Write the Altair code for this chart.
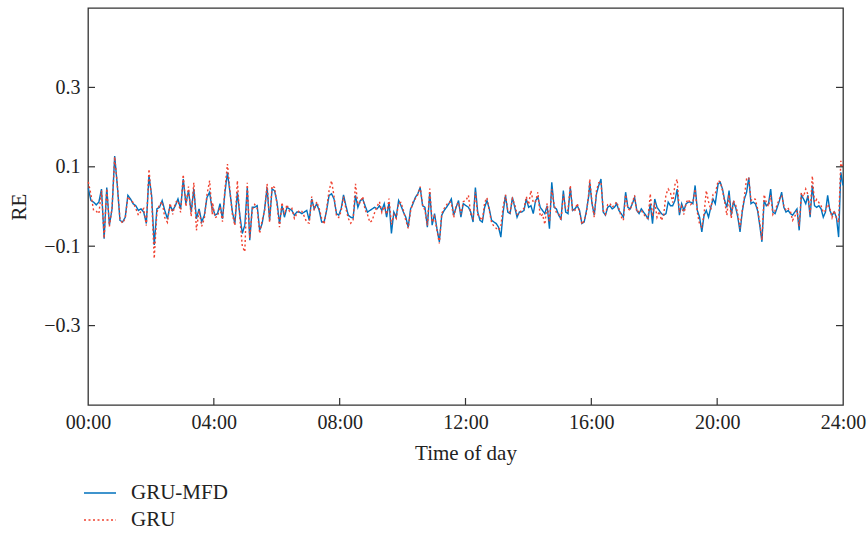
import altair as alt
import numpy as np
import pandas as pd

mfd_1 = [0.046, 0.015, 0.011, 0.004, 0.011, 0.044, -0.081, 0.048, -0.047, -0.006, 0.127, 0.053, -0.035, -0.039, -0.027, 0.028, 0.019, 0.007, 0.002, -0.010, -0.006, -0.014, -0.043, 0.078, 0.028, -0.097, -0.006, -0.002, 0.015, -0.010, -0.031, 0.002, -0.010, 0.002, 0.019, -0.006, 0.069, 0.007, 0.040, -0.014, 0.044, -0.031, -0.006, -0.039, -0.022, 0.023, 0.036, -0.010]
mfd_2 = [-0.002, -0.022, -0.018, 0.007, -0.031, 0.036, 0.086, 0.036, -0.014, -0.043, 0.036, -0.022, -0.068, -0.047, 0.048, -0.085, -0.002, -0.002, 0.002, -0.060, -0.043, -0.006, 0.048, -0.035, 0.044, 0.040, 0.011, -0.043, 0.002, -0.027, -0.002, -0.006, -0.010, -0.022, -0.014, -0.014, -0.018, -0.014, -0.010, -0.035, 0.019, -0.006, 0.007, -0.010, -0.039, -0.039, -0.010, 0.028, 0.032, 0.019, -0.018]
mfd_3 = [-0.022, -0.006, 0.029, 0.002, -0.022, -0.027, -0.029, 0.028, -0.002, 0.015, 0.019, 0.002, -0.014, -0.010, -0.006, -0.002, -0.006, 0.002, -0.010, 0.007, -0.027, 0.011, -0.068, -0.014, -0.027, 0.015, 0.002, -0.014, -0.027, -0.052, -0.006, 0.007, 0.023, 0.032, 0.048, 0.002, -0.002, -0.052, 0.036, -0.047, -0.018, -0.056, -0.089, -0.022, -0.010, -0.002, 0.007, 0.019, -0.022, -0.002, 0.015, -0.027, 0.007]
mfd_4 = [0.002, -0.002, -0.014, -0.039, 0.048, -0.014, -0.035, -0.039, -0.002, 0.015, -0.006, -0.035, -0.039, -0.043, -0.052, -0.077, -0.014, 0.028, -0.014, -0.018, 0.023, -0.002, -0.027, -0.014, -0.014, -0.010, 0.019, -0.002, 0.002, -0.018, 0.015, 0.023, -0.002, -0.010, -0.018, 0.002, -0.056, 0.061, -0.002, -0.006, -0.022, -0.031, 0.040, -0.014, -0.018, 0.048, -0.010, -0.006, 0.002, -0.010, -0.043, -0.039, -0.010, 0.028]
mfd_5 = [0.061, 0.007, -0.022, 0.032, 0.053, 0.069, -0.014, -0.022, -0.002, 0.002, -0.006, -0.002, 0.007, -0.010, -0.018, -0.027, 0.036, -0.002, -0.006, 0.007, 0.023, -0.010, -0.018, -0.006, -0.014, -0.022, -0.031, 0.007, -0.043, 0.019, -0.002, -0.010, -0.018, -0.022, -0.018, 0.011, 0.002, 0.002, 0.015, 0.044, -0.022, 0.007, -0.010, 0.007, 0.011, 0.011, 0.007, 0.053, -0.010, -0.027, -0.064, -0.022, -0.010, -0.027, -0.002, 0.019, 0.007]
mfd_6 = [0.057, 0.061, 0.044, 0.015, -0.002, 0.040, -0.022, 0.011, -0.002, -0.027, -0.064, -0.014, 0.019, 0.036, 0.073, 0.007, 0.011, 0.007, -0.010, -0.047, -0.089, 0.015, 0.002, 0.007, 0.044, -0.014, -0.018, -0.002, 0.015, 0.036, -0.002, -0.014, -0.010, -0.018, -0.022, -0.014, -0.006, -0.060, 0.028, 0.019, 0.007, 0.028, -0.027, 0.053, 0.002, -0.002, 0.002, -0.006, -0.027, -0.014, 0.028, -0.010, -0.022, -0.014, -0.027, -0.077, 0.086, 0.053]

gru_1 = [0.062, 0.030, -0.010, -0.012, -0.018, 0.040, -0.080, 0.045, -0.050, -0.004, 0.125, 0.055, -0.032, -0.042, -0.030, 0.025, 0.015, 0.010, -0.005, -0.022, -0.012, -0.005, -0.048, 0.094, 0.020, -0.131, -0.015, 0.005, 0.012, -0.028, -0.040, 0.008, -0.020, 0.010, 0.015, -0.015, 0.080, 0.000, 0.050, -0.025, 0.060, -0.060, -0.010, -0.050, -0.030, 0.030, 0.065, -0.020]
gru_2 = [0.010, -0.028, -0.025, 0.000, -0.038, 0.045, 0.107, 0.040, -0.020, -0.048, 0.065, -0.030, -0.100, -0.114, 0.060, -0.080, -0.008, 0.005, -0.005, -0.068, -0.035, -0.010, 0.057, -0.040, 0.052, 0.048, 0.005, -0.052, 0.010, -0.020, 0.005, -0.012, -0.005, -0.030, -0.018, -0.010, -0.012, -0.025, -0.040, -0.042, 0.025, -0.010, 0.012, -0.005, -0.030, -0.045, -0.005, 0.040, 0.065, 0.025, -0.025]
gru_3 = [-0.028, -0.012, 0.025, -0.005, -0.030, -0.042, -0.035, 0.057, 0.005, 0.010, 0.025, -0.008, -0.020, -0.040, -0.035, -0.015, 0.000, 0.012, -0.015, 0.000, -0.020, 0.020, -0.045, -0.020, -0.030, 0.010, 0.010, -0.010, -0.035, -0.055, -0.012, 0.012, 0.020, 0.030, 0.050, 0.005, -0.010, -0.048, 0.045, -0.040, -0.025, -0.060, -0.093, -0.018, -0.005, 0.004, 0.012, 0.010, -0.028, 0.002, 0.010, -0.020, 0.012]
gru_4 = [0.016, 0.028, -0.020, -0.030, 0.036, -0.020, -0.028, -0.035, 0.010, 0.022, -0.010, -0.040, -0.050, -0.055, -0.060, -0.050, 0.000, 0.030, -0.010, -0.015, 0.020, 0.005, -0.020, -0.018, -0.008, -0.005, 0.025, 0.005, 0.040, 0.010, 0.012, 0.036, -0.025, -0.020, -0.045, 0.008, -0.040, 0.044, 0.005, -0.015, -0.018, -0.035, 0.030, -0.008, -0.010, 0.053, -0.012, -0.010, 0.008, -0.015, -0.045, -0.035, -0.015, 0.035]
gru_5 = [0.069, 0.010, -0.027, 0.040, 0.060, 0.062, -0.010, -0.020, 0.005, 0.008, -0.002, 0.004, 0.012, -0.005, -0.025, -0.035, 0.030, -0.005, -0.010, 0.010, 0.028, -0.015, -0.012, -0.010, -0.018, -0.028, -0.030, 0.032, -0.025, 0.010, -0.027, -0.012, -0.035, -0.020, 0.030, 0.044, 0.035, 0.010, 0.055, 0.069, -0.015, 0.000, -0.020, 0.010, 0.018, 0.005, 0.010, 0.044, -0.015, -0.045, -0.052, -0.018, 0.040, 0.012, -0.008, 0.030, 0.032]
gru_6 = [0.065, 0.062, 0.040, 0.012, -0.022, 0.030, -0.030, 0.015, 0.005, -0.020, -0.055, -0.010, 0.025, 0.070, 0.073, 0.015, 0.020, 0.018, -0.005, -0.040, -0.085, 0.030, 0.010, 0.000, 0.028, -0.020, -0.010, 0.005, 0.020, 0.028, 0.002, -0.010, -0.005, -0.012, -0.035, -0.025, -0.010, -0.050, 0.035, 0.025, 0.044, 0.030, -0.020, 0.077, 0.010, 0.018, 0.010, 0.002, -0.015, -0.010, 0.006, -0.004, -0.028, -0.010, -0.030, -0.040, 0.115, 0.095]

# time span (hours) covered by each block of readings
seg_hours = [(0.01, 3.95), (3.96, 7.90), (7.97, 11.93), (12.02, 15.92), (15.95, 19.94), (20.03, 24.0)]

series_names = ["GRU-MFD", "GRU"]
y_ticks = [-0.3, -0.1, 0.1, 0.3]
x_ticks = [0, 4, 8, 12, 16, 20, 24]
x_inner_ticks = [4, 8, 12, 16, 20]

mfd_segs = [mfd_1, mfd_2, mfd_3, mfd_4, mfd_5, mfd_6]
gru_segs = [gru_1, gru_2, gru_3, gru_4, gru_5, gru_6]
hours = np.concatenate([np.linspace(a, b, len(s)) for (a, b), s in zip(seg_hours, mfd_segs)])
mfd = sum(mfd_segs, [])
gru = sum(gru_segs, [])

df = pd.concat([
    pd.DataFrame({"hour": hours, "RE": mfd, "model": "GRU-MFD"}),
    pd.DataFrame({"hour": hours, "RE": gru, "model": "GRU"}),
])

FONT = "Liberation Serif"
W, H = 755, 397

x_scale = alt.Scale(domain=[0, 24], nice=False, zero=False)
x_enc = alt.X("hour:Q", scale=x_scale,
              axis=alt.Axis(values=x_ticks, title="Time of day", grid=False, ticks=False, domain=False,
                            labelFlush=False,
                            labelExpr="(datum.value < 10 ? '0' : '') + datum.value + ':00'",
                            labelPadding=7, titlePadding=10))
y_scale = alt.Scale(domain=[-0.5, 0.5], nice=False)
y_enc = alt.Y("RE:Q", scale=y_scale,
              axis=alt.Axis(values=y_ticks, format=".1f", title="RE", grid=False, ticks=False, domain=False,
                            labelFlush=False, labelPadding=8, titlePadding=14))

legend_kw = dict(title=None, orient="none", legendX=-5, legendY=468,
                 symbolType="stroke", symbolSize=1024, symbolStrokeWidth=1.5,
                 labelFont=FONT, labelFontSize=21, labelColor="#222",
                 rowPadding=-5, labelOffset=14)
color_enc = alt.Color("model:N", scale=alt.Scale(domain=series_names, range=["#0072BD", "#F0412F"]),
                      legend=alt.Legend(**legend_kw))
dash_enc = alt.StrokeDash("model:N", scale=alt.Scale(domain=series_names, range=[[1, 0], [2, 2.5]]),
                          legend=alt.Legend(**legend_kw))

blue = alt.Chart(df[df.model == "GRU-MFD"]).mark_line(strokeWidth=1.4).encode(
    x=x_enc, y=y_enc, color=color_enc, strokeDash=dash_enc)
red = alt.Chart(df[df.model == "GRU"]).mark_line(strokeWidth=1.4).encode(
    x=x_enc, y=y_enc, color=color_enc, strokeDash=dash_enc)

ytick_df = pd.DataFrame({"v": y_ticks})
xtick_df = pd.DataFrame({"h": x_inner_ticks})
left_ticks = alt.Chart(ytick_df).mark_rule(color="#333", strokeWidth=1.2).encode(
    y=alt.Y("v:Q", scale=y_scale), x=alt.value(0), x2=alt.value(7))
right_ticks = alt.Chart(ytick_df).mark_rule(color="#333", strokeWidth=1.2).encode(
    y=alt.Y("v:Q", scale=y_scale), x=alt.value(W - 7), x2=alt.value(W))
bottom_ticks = alt.Chart(xtick_df).mark_rule(color="#333", strokeWidth=1.2).encode(
    x=alt.X("h:Q", scale=x_scale), y=alt.value(H), y2=alt.value(H - 7))

chart = alt.layer(blue, red, left_ticks, right_ticks, bottom_ticks).properties(
    width=W, height=H,
    autosize=alt.AutoSizeParams(type="none"),
    padding={"left": 88, "top": 8, "right": 25, "bottom": 131},
).configure_view(stroke="#333", strokeWidth=1.3).configure_axis(
    labelFont=FONT, labelFontSize=20, labelColor="#222",
    titleFont=FONT, titleFontSize=21, titleFontWeight="normal", titleColor="#222",
)

chart.save("out.html", embed_options={"renderer": "svg", "actions": False})
